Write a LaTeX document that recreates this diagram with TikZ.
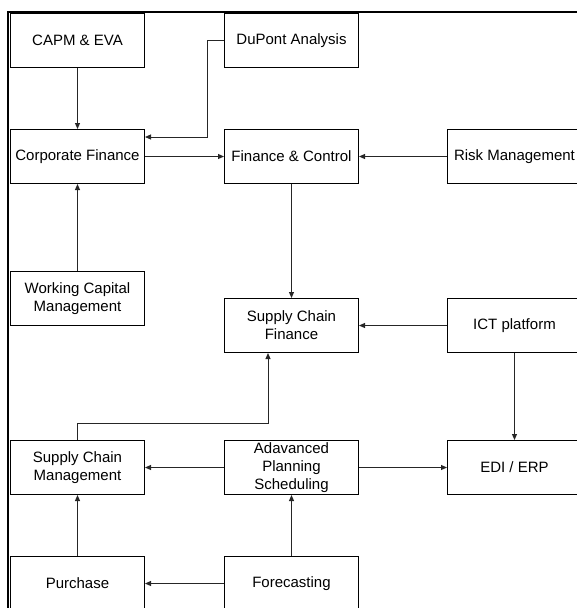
\documentclass[tikz,border=0pt]{standalone}
\usepackage{fontspec}
\setmainfont{Liberation Sans}
\usetikzlibrary{arrows.meta}
\begin{document}
\begin{tikzpicture}[x=1pt,y=-1pt,
  box/.style={draw,line width=1pt,minimum width=134pt,minimum height=54pt,
    inner sep=0pt,align=center,anchor=north west,
    font=\fontsize{15}{18}\selectfont},
  link/.style={line width=1pt,draw=black!85,-{Triangle[length=6pt,width=5pt]}}]
\useasboundingbox (0,0) rectangle (577,608);
\clip (0,0) rectangle (577,608);
% outer frame (top and left edges)
\draw[line width=2pt] (7.7,609) -- (7.7,12) -- (578,12);
% boxes
\node[box] (capm)  at (10,13)   {CAPM \& EVA};
\node[box] (dupont) at (224,13) {DuPont Analysis};
\node[box] (corp)  at (10,129)  {Corporate Finance};
\node[box] (fc)    at (224,129) {Finance \& Control};
\node[box] (risk)  at (447,129) {Risk Management};
\node[box] (wcm)   at (10,271)  {Working Capital\\Management};
\node[box] (scf)   at (224,298) {Supply Chain\\Finance};
\node[box] (ict)   at (447,298) {ICT platform};
\node[box] (scm)   at (10,440)  {Supply Chain\\Management};
\node[box] (aps)   at (224,440) {Adavanced\\Planning\\Scheduling};
\node[box] (edi)   at (447,440) {EDI / ERP};
\node[box] (purch) at (10,556)  {Purchase};
\node[box] (fcst)  at (224,556) {Forecasting};
% bend points
\coordinate (dpbend) at (207,137);
\coordinate (scbend) at (268,423);
% connectors
\draw[link] (capm.south) -- (corp.north);
\draw[link] (dupont.west) -| (dpbend) -- (dpbend -| corp.east);
\draw[link] (corp.east) -- (fc.west);
\draw[link] (risk.west) -- (fc.east);
\draw[link] (wcm.north) -- (corp.south);
\draw[link] (fc.south) -- (scf.north);
\draw[link] (ict.west) -- (scf.east);
\draw[link] (ict.south) -- (edi.north);
\draw[link] (scm.north) |- (scbend) -- (scbend |- scf.south);
\draw[link] (aps.west) -- (scm.east);
\draw[link] (aps.east) -- (edi.west);
\draw[link] (purch.north) -- (scm.south);
\draw[link] (fcst.north) -- (aps.south);
\draw[link] (fcst.west) -- (purch.east);
\end{tikzpicture}
\end{document}
